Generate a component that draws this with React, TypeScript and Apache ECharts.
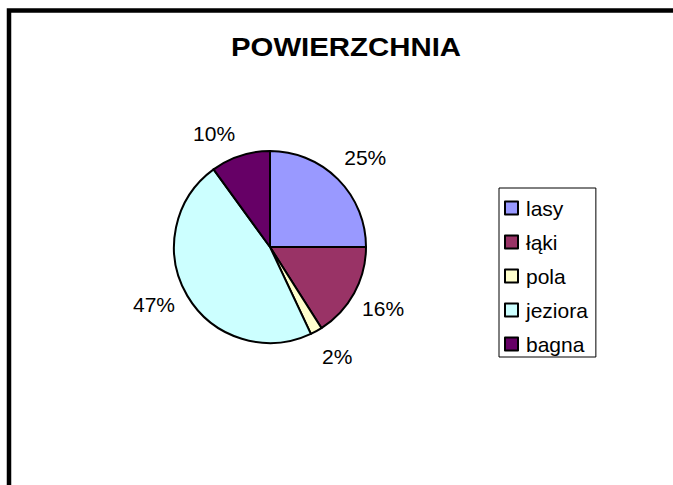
import React, { useEffect, useRef } from "react";
import * as echarts from "echarts";

const categories = ["lasy", "łąki", "pola", "jeziora", "bagna"];
const values = [25, 16, 2, 47, 10];
const colors = ["#9999FF", "#993366", "#FFFFCC", "#CCFFFF", "#660066"];
const titleText = "POWIERZCHNIA";

export default function App() {
  const ref = useRef<HTMLDivElement>(null);
  useEffect(() => {
    if (!ref.current) return;
    const chart = echarts.init(ref.current, null, { renderer: "svg" });
    const cx = 270;
    const cy = 247;
    const total = values.reduce((a, b) => a + b, 0);
    const mids: number[] = [];
    let acc = 0;
    values.forEach((v) => {
      mids.push(((acc + v / 2) / total) * Math.PI * 2);
      acc += v;
    });
    const labelDist = 129;
    const nudges = [
      [4, 2],
      [0, -1],
      [5, -4],
      [-5, -8],
      [-16, 9],
    ];
    const font = "'Liberation Sans', Arial, sans-serif";
    chart.setOption({
      animation: false,
      backgroundColor: "#ffffff",
      graphic: [
        {
          type: "rect",
          shape: { x: 9, y: 10.5, width: 900, height: 900 },
          style: { fill: "none", stroke: "#000", lineWidth: 4.5 },
          silent: true,
        },
        {
          type: "text",
          x: 346,
          y: 47,
          scaleX: 1.13,
          style: {
            text: titleText,
            fill: "#000",
            font: `bold 26px ${font}`,
            textAlign: "center",
            textVerticalAlign: "middle",
          },
        },
      ],
      legend: {
        orient: "vertical",
        left: 499,
        top: 188,
        data: categories,
        borderColor: "#000",
        borderWidth: 1,
        padding: [8, 8, 1, 5],
        itemWidth: 13,
        itemHeight: 13,
        itemGap: 10,
        icon: "rect",
        itemStyle: { borderColor: "#000", borderWidth: 2 },
        textStyle: {
          fontFamily: font,
          fontSize: 21,
          lineHeight: 24,
          color: "#000",
          padding: [0, 0, 0, 3],
        },
      },
      series: [
        {
          type: "pie",
          center: [cx, cy],
          radius: 96,
          startAngle: 90,
          clockwise: true,
          itemStyle: { borderColor: "#000", borderWidth: 2 },
          emphasis: { disabled: true },
          label: {
            show: true,
            position: "outside",
            formatter: (p: any) => `${Math.round(p.percent)}%`,
            fontFamily: font,
            fontSize: 21,
            color: "#000",
          },
          labelLine: { show: false },
          labelLayout: (params: any) => {
            const i = params.dataIndex;
            const a = mids[i];
            return {
              x: cx + Math.sin(a) * labelDist + nudges[i][0],
              y: cy - Math.cos(a) * labelDist + nudges[i][1],
              align: "center",
              verticalAlign: "middle",
            };
          },
          data: categories.map((name, i) => ({
            name,
            value: values[i],
            itemStyle: { color: colors[i] },
          })),
        },
      ],
    });
    return () => chart.dispose();
  }, []);
  return (
    <div
      ref={ref}
      style={{ position: "absolute", left: 0, top: 0, width: 673, height: 485 }}
    />
  );
}
